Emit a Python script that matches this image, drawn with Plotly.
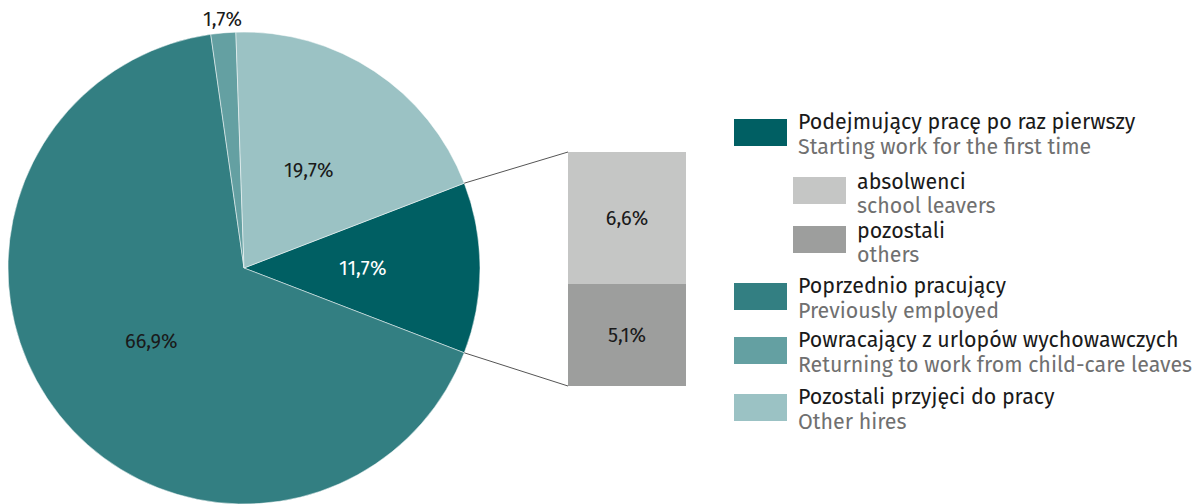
import math
import plotly.graph_objects as go

# pie data (slice order, clockwise from the highlighted slice)
pie_labels = ["Podejmujący pracę po raz pierwszy", "Poprzednio pracujący",
              "Powracający z urlopów wychowawczych", "Pozostali przyjęci do pracy"]
pie_values = [11.7, 66.9, 1.7, 19.7]
pie_colors = ["#005f63", "#337f82", "#64a0a2", "#9bc2c4"]
pie_text_colors = ["#ffffff", "#1a1a1a", "#1a1a1a", "#1a1a1a"]
pie_label_radius = [0.5, 0.5, 1.06, 0.5]   # fraction of pie radius

# breakdown of the first slice (bottom to top)
bar_labels = ["pozostali", "absolwenci"]
bar_values = [5.1, 6.6]
bar_colors = ["#9d9e9d", "#c5c6c5"]

# legend texts
legend_pl = ["Podejmujący pracę po raz pierwszy", "absolwenci", "pozostali",
             "Poprzednio pracujący", "Powracający z urlopów wychowawczych",
             "Pozostali przyjęci do pracy"]
legend_en = ["Starting work for the first time", "school leavers", "others",
             "Previously employed", "Returning to work from child-care leaves",
             "Other hires"]
legend_colors = ["#005f63", "#c5c6c5", "#9d9e9d", "#337f82", "#64a0a2", "#9bc2c4"]
legend_indent = [False, True, True, False, False, False]
legend_top = [119, 177, 226, 283, 337, 394]

FONT = "Fira Sans, Noto Sans, sans-serif"
OFF = 8                              # page body margin
W, H = 1201 - OFF, 504 - OFF         # figure size
CX, CY, R = 244, 268, 236            # pie centre / radius (page px)
BAR_L, BAR_R, BAR_T, BAR_B = 568, 686, 152, 386


def px(x):
    return (x - OFF) / W


def py(y):
    return (H - (y - OFF)) / H


total = sum(pie_values)
half = pie_values[0] / total * 360 / 2

fig = go.Figure()

fig.add_trace(go.Pie(
    labels=pie_labels,
    values=pie_values,
    sort=False,
    direction="clockwise",
    rotation=90 - half,
    marker=dict(colors=pie_colors, line=dict(color="#ffffff", width=0.5)),
    textinfo="none",
    showlegend=False,
    hoverinfo="skip",
    domain=dict(x=[px(CX - R), px(CX + R)], y=[py(CY + R), py(CY - R)]),
))

# slice labels at the middle angle of each slice
start = half
for val, col, rf in zip(pie_values, pie_text_colors, pie_label_radius):
    mid = math.radians(start - val / total * 180)
    start -= val / total * 360
    lx = CX + rf * R * math.cos(mid)
    ly = CY - rf * R * math.sin(mid)
    fig.add_annotation(xref="paper", yref="paper", x=px(lx), y=py(ly),
                       text=f"{val:.1f}%".replace(".", ","), showarrow=False,
                       xanchor="center", yanchor="middle",
                       font=dict(family=FONT, size=20, color=col))

for lab, val, col in zip(bar_labels, bar_values, bar_colors):
    fig.add_trace(go.Bar(
        x=[0], y=[val], name=lab,
        marker=dict(color=col, line=dict(width=0)),
        width=1,
        texttemplate="%{y:.1f}%",
        textposition="inside",
        insidetextanchor="middle",
        textfont=dict(family=FONT, size=20, color="#1a1a1a"),
        showlegend=False,
        hoverinfo="skip",
    ))

# connector lines from slice edges to the bar
a = math.radians(half)
ex = CX + R * math.cos(a)
for sign, by in [(1, BAR_T), (-1, BAR_B)]:
    ey = CY - sign * R * math.sin(a)
    fig.add_shape(type="line", xref="paper", yref="paper",
                  x0=px(ex), y0=py(ey), x1=px(BAR_L), y1=py(by),
                  line=dict(color="#555555", width=1))

# custom legend
for pl, en, col, ind, top in zip(legend_pl, legend_en, legend_colors,
                                 legend_indent, legend_top):
    x0 = 793 if ind else 734
    dy = 5 if ind else 3
    fig.add_shape(type="rect", xref="paper", yref="paper",
                  x0=px(x0), x1=px(x0 + 53), y0=py(top + 27), y1=py(top),
                  fillcolor=col, line=dict(width=0))
    tx = x0 + 62
    fig.add_annotation(xref="paper", yref="paper", x=px(tx), y=py(top + dy),
                       text=pl, showarrow=False, xanchor="left", yanchor="middle",
                       font=dict(family=FONT, size=21.4, color="#1a1a1a"))
    fig.add_annotation(xref="paper", yref="paper", x=px(tx),
                       y=py(top + dy + (24 if ind else 25)),
                       text=en, showarrow=False, xanchor="left", yanchor="middle",
                       font=dict(family=FONT, size=21.4, color="#707070"))

fig.update_layout(
    width=W, height=H,
    margin=dict(l=0, r=0, t=0, b=0),
    paper_bgcolor="#ffffff",
    plot_bgcolor="#ffffff",
    barmode="stack",
    separators=", ",
    font=dict(family=FONT),
    xaxis=dict(domain=[px(BAR_L), px(BAR_R)], range=[-0.5, 0.5], visible=False,
               fixedrange=True),
    yaxis=dict(domain=[py(BAR_B), py(BAR_T)], range=[0, sum(bar_values)],
               visible=False, fixedrange=True),
)

fig.write_html("out.html")
